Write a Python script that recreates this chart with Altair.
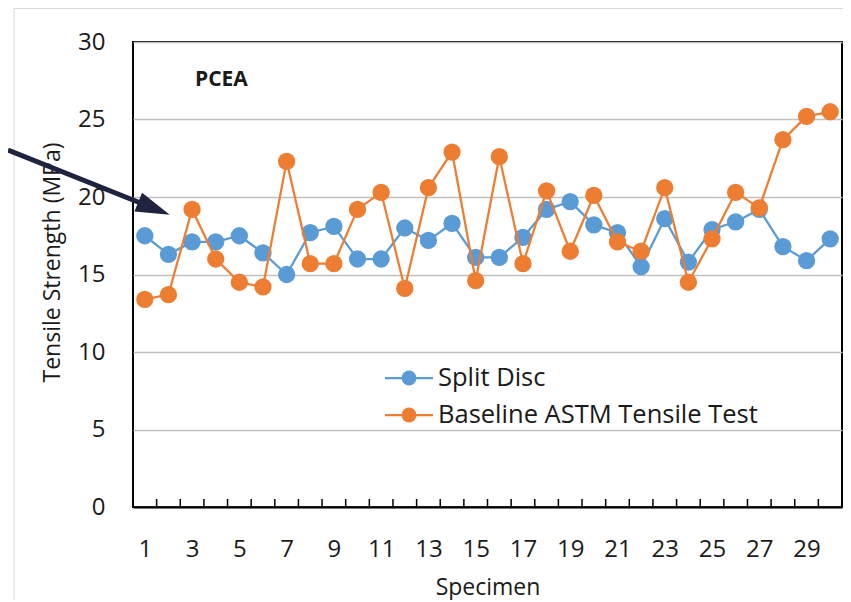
import altair as alt
import pandas as pd

specimens = list(range(1, 31))
split_disc = [17.5, 16.3, 17.1, 17.1, 17.5, 16.4, 15.0, 17.7, 18.1, 16.0,
              16.0, 18.0, 17.2, 18.3, 16.1, 16.1, 17.4, 19.2, 19.7, 18.2,
              17.7, 15.5, 18.6, 15.8, 17.9, 18.4, 19.2, 16.8, 15.9, 17.3]
baseline = [13.4, 13.7, 19.2, 16.0, 14.5, 14.2, 22.3, 15.7, 15.7, 19.2,
            20.3, 14.1, 20.6, 22.9, 14.6, 22.6, 15.7, 20.4, 16.5, 20.1,
            17.1, 16.5, 20.6, 14.5, 17.3, 20.3, 19.3, 23.7, 25.2, 25.5]
series_names = ["Split Disc", "Baseline ASTM Tensile Test"]
series_values = [split_disc, baseline]
colors = ["#5B9BD5", "#ED7D31"]
y_ticks = [0, 5, 10, 15, 20, 25, 30]
x_labels = [s for s in specimens if s % 2 == 1]
panel_label = "PCEA"

FONT = "Open Sans"
TXT = "#1a1a1a"

x_scale = alt.Scale(domain=[0.5, 30.5], nice=False, zero=False)
y_scale = alt.Scale(domain=[0, 30], nice=False)

x_axis = alt.Axis(values=x_labels, grid=False, ticks=False, tickSize=0,
                  domain=True, domainColor="#000000", domainWidth=2,
                  labelFont=FONT, labelFontSize=24, labelColor=TXT,
                  labelBaseline="middle", labelPadding=42, labelFlush=False,
                  title="Specimen", titleFont=FONT, titleFontSize=23,
                  titleFontWeight="normal", titleColor=TXT,
                  titleY=80, titleBaseline="middle")
y_axis = alt.Axis(values=y_ticks, grid=True, gridColor="#c0c0c0", gridWidth=1.5,
                  ticks=False, tickSize=0, domain=False,
                  labelFont=FONT, labelFontSize=24, labelColor=TXT,
                  labelPadding=28,
                  title="Tensile Strength (MPa)", titleFont=FONT, titleFontSize=23,
                  titleFontWeight="normal", titleColor=TXT,
                  titleAngle=270, titleX=-81, titleY=220,
                  titleBaseline="middle", titleAlign="center")

layers = []
for i, (name, vals) in enumerate(zip(series_names, series_values)):
    df = pd.DataFrame({"Specimen": specimens, "Value": vals, "Series": name})
    base = alt.Chart(df)
    if i == 0:
        xenc = alt.X("Specimen:Q", scale=x_scale, axis=x_axis)
        yenc = alt.Y("Value:Q", scale=y_scale, axis=y_axis)
    else:
        xenc = alt.X("Specimen:Q", scale=x_scale)
        yenc = alt.Y("Value:Q", scale=y_scale)
    line = base.mark_line(color=colors[i], strokeWidth=2.25).encode(x=xenc, y=yenc)
    pts = base.mark_circle(color=colors[i], size=300, opacity=1).encode(
        x=alt.X("Specimen:Q", scale=x_scale), y=alt.Y("Value:Q", scale=y_scale))
    layers += [line, pts]

# inside ticks at category boundaries
tick_df = pd.DataFrame({"pos": [s - 0.5 for s in specimens] + [specimens[-1] + 0.5]})
ticks = alt.Chart(tick_df).mark_rule(color="#000000", strokeWidth=1.5).encode(
    x=alt.X("pos:Q", scale=x_scale), y=alt.value(465), y2=alt.value(457))

one = alt.Data(values=[{}])

# manual legend
legend_layers = []
for i, name in enumerate(series_names):
    yy = 336 + i * 37
    legend_layers.append(alt.Chart(one).mark_rule(color=colors[i], strokeWidth=2.25).encode(
        x=alt.value(252), x2=alt.value(300), y=alt.value(yy)))
    legend_layers.append(alt.Chart(one).mark_point(
        shape="circle", filled=True, color=colors[i], size=220, opacity=1).encode(
        x=alt.value(276), y=alt.value(yy)))
    legend_layers.append(alt.Chart(one).mark_text(
        text=name, font=FONT, fontSize=25.5, color=TXT, align="left", baseline="middle").encode(
        x=alt.value(305), y=alt.value(yy)))

label = alt.Chart(one).mark_text(
    text=panel_label, font=FONT, fontSize=21, fontWeight="bold", color=TXT,
    align="left", baseline="middle").encode(x=alt.value(62), y=alt.value(38))

# outer light frame of the figure
frame_v = alt.Chart(one).mark_rule(color="#d9d9d9", strokeWidth=1).encode(
    x=alt.value(-119), y=alt.value(-34), y2=alt.value(560))
frame_h = alt.Chart(one).mark_rule(color="#d9d9d9", strokeWidth=1).encode(
    x=alt.value(-119), x2=alt.value(710), y=alt.value(-33.5))

# annotation arrow
arrow_line = alt.Chart(one).mark_rule(color="#1f2340", strokeWidth=5).encode(
    x=alt.value(-125), y=alt.value(108), x2=alt.value(10), y2=alt.value(162))
arrow_head = alt.Chart(one).mark_point(
    shape="M 1 0 L -1 -0.6 L -1 0.6 Z", filled=True, color="#1f2340",
    size=1156, opacity=1, angle=22).encode(x=alt.value(21), y=alt.value(166.5))

chart = alt.layer(
    *layers, ticks, *legend_layers, label, frame_v, frame_h, arrow_line, arrow_head
).properties(
    width=709, height=465,
    autosize=alt.AutoSizeParams(type="none"),
    padding={"left": 125, "top": 34, "right": 1, "bottom": 93},
    background="white",
).configure_view(
    stroke="#000000", strokeWidth=2
)

chart.save("out.html", embed_options={"renderer": "svg", "actions": False})
